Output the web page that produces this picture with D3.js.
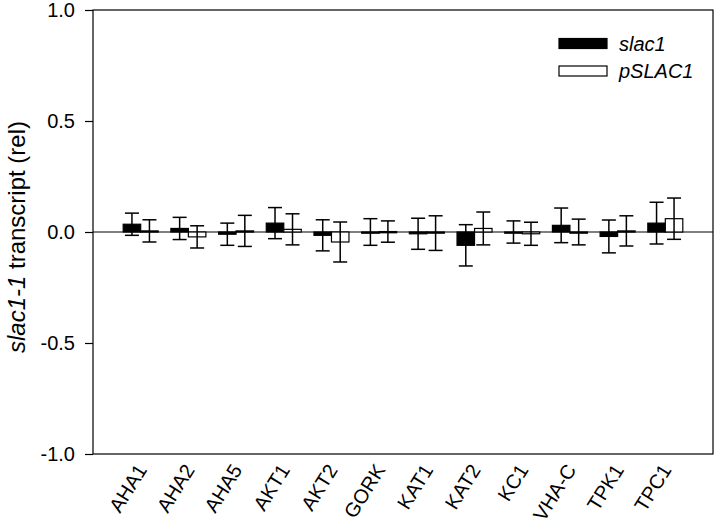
<!DOCTYPE html>
<html>
<head>
    <meta charset="UTF-8">
    <title>slac1-1 transcript</title>
    <script src="https://d3js.org/d3.v7.min.js"></script>
    <style>
        body { margin: 0; background: #fff; }
        text { font-family: Arial, "Liberation Sans", sans-serif; fill: #000; }
    </style>
</head>
<body>
    <svg id="chart" width="717" height="527"></svg>
    <script>
        // data
        const genes = ['AHA1', 'AHA2', 'AHA5', 'AKT1', 'AKT2', 'GORK', 'KAT1', 'KAT2', 'KC1', 'VHA-C', 'TPK1', 'TPC1'];
        const slac1Mean = [0.035, 0.016, -0.01, 0.04, -0.015, 0.0, -0.008, -0.06, 0.0, 0.03, -0.02, 0.04];
        const slac1Err = [0.05, 0.05, 0.05, 0.07, 0.07, 0.06, 0.07, 0.093, 0.05, 0.078, 0.074, 0.094];
        const pSlacMean = [0.005, -0.022, 0.005, 0.012, -0.045, 0.002, -0.005, 0.016, -0.008, 0.0, 0.005, 0.06];
        const pSlacErr = [0.05, 0.05, 0.07, 0.07, 0.09, 0.048, 0.078, 0.074, 0.052, 0.058, 0.068, 0.093];
        const yTicks = [-1.0, -0.5, 0.0, 0.5, 1.0];
        const seriesNames = ['slac1', 'pSLAC1'];

        const svg = d3.select('#chart');
        const plotL = 93, plotR = 713, plotT = 10, plotB = 454;

        const x = d3.scalePoint().domain(genes).range([plotL, plotR]).padding(1);
        const y = d3.scaleLinear().domain([-1, 1]).range([plotB, plotT]);
        const barW = 17.5;

        // y axis (hyphen minus like the original, not the unicode minus)
        const fmt = d3.format('.1f');
        const yAxis = d3.axisLeft(y).tickValues(yTicks)
            .tickFormat(d => fmt(d).replace('\u2212', '-'))
            .tickSizeOuter(0).tickSize(8);
        const gy = svg.append('g').attr('transform', `translate(${plotL},0)`).call(yAxis);
        gy.select('.domain').remove();
        gy.selectAll('line').attr('stroke', '#000').attr('stroke-width', 1.2);
        gy.selectAll('text').attr('font-size', 20).attr('x', -18).attr('font-family', 'Arial, "Liberation Sans", sans-serif');

        // frame
        svg.append('rect')
            .attr('x', plotL).attr('y', plotT)
            .attr('width', plotR - plotL).attr('height', plotB - plotT)
            .attr('fill', 'none').attr('stroke', '#000').attr('stroke-width', 1.2);

        // zero line
        svg.append('line')
            .attr('x1', plotL).attr('x2', plotR)
            .attr('y1', y(0)).attr('y2', y(0))
            .attr('stroke', '#000').attr('stroke-width', 1.2);

        const rows = genes.map((g, i) => [
            { gene: g, s: 0, v: slac1Mean[i], e: slac1Err[i] },
            { gene: g, s: 1, v: pSlacMean[i], e: pSlacErr[i] }
        ]).flat();

        const bx = d => x(d.gene) + (d.s === 0 ? -barW : 0);

        // bars
        svg.append('g').selectAll('rect').data(rows).join('rect')
            .attr('x', bx)
            .attr('y', d => y(Math.max(0, d.v)))
            .attr('width', barW)
            .attr('height', d => Math.max(1.2, Math.abs(y(d.v) - y(0))))
            .attr('fill', d => d.s === 0 ? '#000' : '#fff')
            .attr('stroke', '#000')
            .attr('stroke-width', 1.2);

        // error bars
        const eb = svg.append('g').attr('stroke', '#000').attr('stroke-width', 1.5);
        rows.forEach(d => {
            const cx = bx(d) + barW / 2;
            eb.append('line').attr('x1', cx).attr('x2', cx).attr('y1', y(d.v + d.e)).attr('y2', y(d.v - d.e));
            [d.v + d.e, d.v - d.e].forEach(v => {
                eb.append('line').attr('x1', cx - 7).attr('x2', cx + 7).attr('y1', y(v)).attr('y2', y(v));
            });
        });

        // x labels
        svg.append('g').selectAll('text').data(genes).join('text')
            .attr('transform', d => `translate(${x(d) + 1},${plotB + 12}) rotate(-58)`)
            .attr('text-anchor', 'end')
            .attr('dy', '0.35em')
            .attr('font-size', 20)
            .text(d => d);

        // y label
        const yl = svg.append('text')
            .attr('transform', `translate(25,237) rotate(-90)`)
            .attr('text-anchor', 'middle')
            .attr('font-size', 24);
        yl.append('tspan').attr('font-style', 'italic').text('slac1-1');
        yl.append('tspan').text(' transcript (rel)');

        // legend
        const lg = svg.append('g');
        seriesNames.forEach((n, i) => {
            lg.append('rect')
                .attr('x', 559).attr('y', 38.5 + i * 27.5)
                .attr('width', 48).attr('height', 10)
                .attr('fill', i === 0 ? '#000' : '#fff')
                .attr('stroke', '#000').attr('stroke-width', 1.2);
            lg.append('text')
                .attr('x', 619).attr('y', 43.5 + i * 27.5)
                .attr('dy', '0.35em')
                .attr('font-size', 20)
                .attr('font-style', 'italic')
                .text(n);
        });
    </script>
</body>
</html>
